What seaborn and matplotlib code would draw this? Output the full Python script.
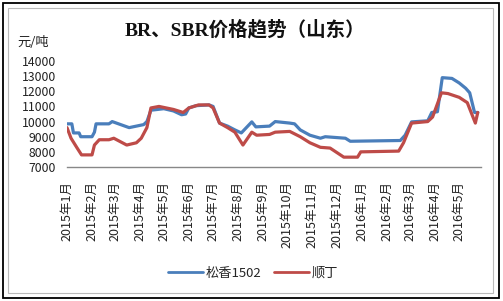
import matplotlib
matplotlib.use("Agg")
import matplotlib.pyplot as plt
import matplotlib.dates as mdates
from matplotlib.patches import Rectangle
from matplotlib.lines import Line2D
import pandas as pd
import seaborn as sns

title = "BR、SBR价格趋势（山东）"
unit_label = "元/吨"
series_names = ["松香1502", "顺丁"]

blue_dates = ["2015-01-01", "2015-01-07", "2015-01-09", "2015-01-16", "2015-01-18", "2015-02-01",
              "2015-02-04", "2015-02-06", "2015-02-22", "2015-02-26", "2015-03-19", "2015-04-06",
              "2015-04-10", "2015-04-15", "2015-05-01", "2015-05-13", "2015-05-23", "2015-05-28",
              "2015-06-01", "2015-06-10", "2015-06-26", "2015-07-01", "2015-07-09", "2015-07-19",
              "2015-07-28", "2015-08-05", "2015-08-18", "2015-08-23", "2015-09-09", "2015-09-16",
              "2015-10-04", "2015-10-10", "2015-10-17", "2015-10-29", "2015-11-11", "2015-11-17",
              "2015-12-12", "2015-12-18", "2016-02-18", "2016-02-24", "2016-03-03", "2016-03-23",
              "2016-03-28", "2016-04-04", "2016-04-10", "2016-04-22", "2016-05-01", "2016-05-09",
              "2016-05-14", "2016-05-20", "2016-05-24"]
blue_values = [9850, 9850, 9250, 9250, 9000, 9000,
               9300, 9850, 9850, 10000, 9600, 9800,
               10000, 10750, 10850, 10700, 10450, 10500,
               10900, 11050, 11100, 11000, 9900, 9700,
               9450, 9250, 9980, 9650, 9700, 10000,
               9900, 9850, 9450, 9100, 8900, 9000,
               8900, 8700, 8750, 9100, 9980, 10050,
               10600, 10650, 12900, 12850, 12550, 12200,
               11900, 10600, 10600]

red_dates = ["2015-01-01", "2015-01-06", "2015-01-13", "2015-01-19", "2015-02-01", "2015-02-04",
             "2015-02-10", "2015-02-22", "2015-02-28", "2015-03-16", "2015-03-28", "2015-04-03",
             "2015-04-10", "2015-04-15", "2015-04-25", "2015-05-13", "2015-05-25", "2015-06-01",
             "2015-06-13", "2015-06-26", "2015-07-01", "2015-07-09", "2015-07-19", "2015-07-28",
             "2015-08-07", "2015-08-18", "2015-08-24", "2015-09-09", "2015-09-16", "2015-10-04",
             "2015-10-17", "2015-10-29", "2015-11-11", "2015-11-23", "2015-12-10", "2015-12-27",
             "2015-12-31", "2016-02-16", "2016-02-22", "2016-03-03", "2016-03-23", "2016-03-29",
             "2016-04-09", "2016-04-17", "2016-05-01", "2016-05-11", "2016-05-21", "2016-05-24"]
red_values = [9600, 8900, 8300, 7800, 7800, 8450,
              8800, 8800, 8900, 8450, 8600, 8900,
              9600, 10900, 11000, 10800, 10600, 10900,
              11100, 11100, 10900, 9900, 9600, 9300,
              8450, 9300, 9100, 9150, 9300, 9350,
              9000, 8600, 8300, 8250, 7650, 7650,
              8000, 8050, 8600, 9900, 10000, 10300,
              11900, 11850, 11600, 11250, 9900, 10600]

y_ticks = [7000, 8000, 9000, 10000, 11000, 12000, 13000, 14000]

df = pd.concat([
    pd.DataFrame({"date": pd.to_datetime(blue_dates), "price": blue_values, "series": series_names[0]}),
    pd.DataFrame({"date": pd.to_datetime(red_dates), "price": red_values, "series": series_names[1]}),
], ignore_index=True)

sns.set_style("white")
plt.rcParams["font.family"] = ["Noto Sans CJK SC", "DejaVu Sans"]

fig = plt.figure(figsize=(5.03, 3.01), dpi=100)
ax = fig.add_axes([67 / 503, 1 - 167 / 301, (481 - 67) / 503, (167 - 61) / 301])

palette = {series_names[0]: "#4A7EBB", series_names[1]: "#BE4B48"}
sns.lineplot(data=df, x="date", y="price", hue="series", palette=palette,
             linewidth=2.3, ax=ax, legend=False)

ax.set_ylim(7000, 14000)
ax.set_yticks(y_ticks)
ax.set_yticklabels([str(v) for v in y_ticks], fontsize=8.8, color="#222222")
ax.set_xlim(pd.Timestamp("2015-01-01"), pd.Timestamp("2016-05-28"))
ax.xaxis.set_major_locator(mdates.MonthLocator())
ax.xaxis.set_major_formatter(mdates.DateFormatter("%Y年%-m月"))
for lab in ax.get_xticklabels():
    lab.set_rotation(90)
    lab.set_fontsize(9)
    lab.set_color("#222222")
ax.tick_params(axis="y", length=0, pad=8)
ax.tick_params(axis="x", length=0, pad=10)
ax.set_xlabel("")
ax.set_ylabel("")
for s in ["top", "right", "left"]:
    ax.spines[s].set_visible(False)
ax.spines["bottom"].set_color("#888888")
ax.spines["bottom"].set_linewidth(1)
ax.grid(False)

fig.text(245 / 503, 1 - 30 / 301, title, ha="center", va="center", fontsize=14,
         fontweight="bold", color="#111111",
         family=["Liberation Serif", "Noto Sans CJK SC", "DejaVu Sans"])
fig.text(17 / 503, 1 - 43 / 301, unit_label, ha="left", va="center", fontsize=9.5, color="#222222")

handles = [Line2D([], [], color=palette[n], linewidth=2.0) for n in series_names]
fig.legend(handles, series_names, loc="center", bbox_to_anchor=(253 / 503, 1 - 273 / 301),
           ncol=2, frameon=False, fontsize=9.5, handlelength=2.6, handletextpad=0.2,
           columnspacing=1.0)

fig.patches.append(Rectangle((3 / 503, 3 / 301), 496 / 503, 295 / 301, transform=fig.transFigure,
                             fill=False, edgecolor="black", linewidth=1.3))
fig.patches.append(Rectangle((8 / 503, 8 / 301), 485 / 503, 285 / 301, transform=fig.transFigure,
                             fill=False, edgecolor="#BBBBBB", linewidth=0.8))

fig.savefig("out.png", dpi=100)
